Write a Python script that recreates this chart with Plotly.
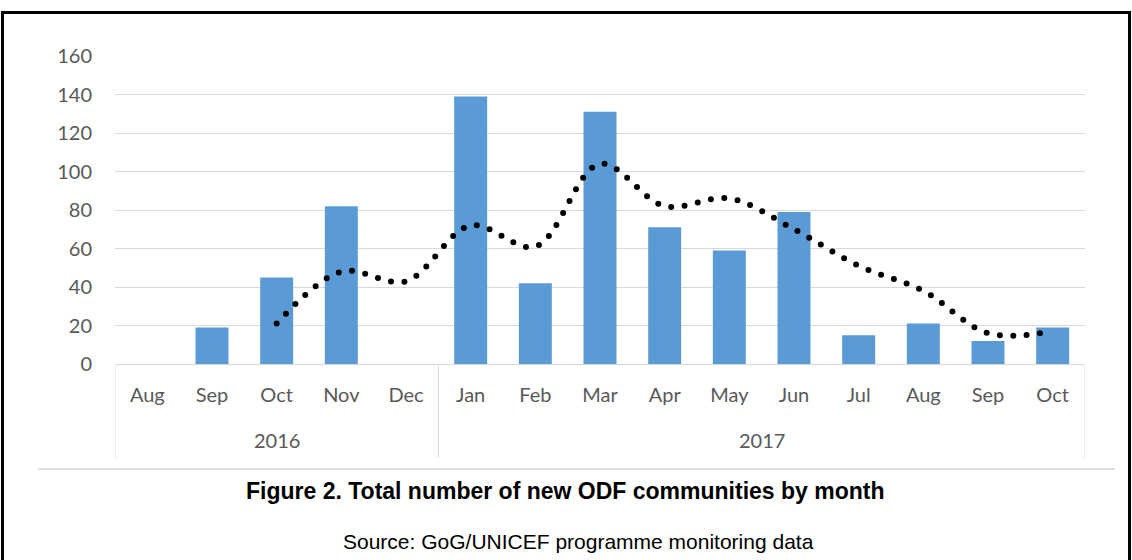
import plotly.graph_objects as go

months = ["Aug", "Sep", "Oct", "Nov", "Dec", "Jan", "Feb", "Mar", "Apr", "May", "Jun", "Jul", "Aug", "Sep", "Oct"]
years = ["2016"] * 5 + ["2017"] * 10
values = [0, 19, 45, 82, 0, 139, 42, 131, 71, 59, 79, 15, 21, 12, 19]
# 3-month moving-average trendline (starts at Oct 2016)
trend_start = 2
trend = [21, 48, 43, 72, 61, 104, 82, 86, 70, 51, 38, 16, 17]
y_ticks = [0, 20, 40, 60, 80, 100, 120, 140, 160]

W, H = 1132, 560
L, R, T, B = 115, 47, 56, 196
pw, ph = W - L - R, H - T - B

def px(X):
    return (X - L) / pw

def py(Y):
    return (H - B - Y) / ph

idx = list(range(len(months)))
FONT = "Lato, Carlito, Calibri, sans-serif"
ARIAL = "Liberation Sans, Arial, sans-serif"
GRAY = "#595959"

fig = go.Figure()
fig.add_trace(go.Bar(x=idx, y=values, marker=dict(color="#5B9BD5", line=dict(width=0)),
                     width=0.51, hoverinfo="y"))
fig.add_trace(go.Scatter(x=idx[trend_start:trend_start + len(trend)], y=trend, mode="lines",
                         line=dict(color="black", width=6, shape="spline", smoothing=1,
                                   dash="5px,9px"), hoverinfo="skip"))

shapes = []
annotations = []
bounds = [0]
for i in range(1, len(years)):
    if years[i] != years[i - 1]:
        bounds.append(i)
bounds.append(len(years))
for b in bounds:
    shapes.append(dict(type="line", xref="x", yref="paper", x0=b - 0.5, x1=b - 0.5,
                       y0=0, y1=py(458), line=dict(color="#D9D9D9", width=1)))
for a, b in zip(bounds[:-1], bounds[1:]):
    annotations.append(dict(x=(a + b - 1) / 2, y=py(440), xref="x", yref="paper",
                            xanchor="center", yanchor="middle",
                            text=years[a], showarrow=False,
                            font=dict(family=FONT, size=20, color=GRAY)))
shapes.append(dict(type="line", xref="paper", yref="paper", x0=px(38), x1=px(1115),
                   y0=py(469), y1=py(469), line=dict(color="#BFBFBF", width=1)))
shapes.append(dict(type="rect", xref="paper", yref="paper", x0=px(2.5), x1=px(1129.5),
                   y0=py(600), y1=py(12.5), line=dict(color="black", width=3)))
annotations.append(dict(x=px(565), y=py(491), xref="paper", yref="paper",
                        xanchor="center", yanchor="middle",
                        text="<b>Figure 2. Total number of new ODF communities by month</b>",
                        showarrow=False, font=dict(family=ARIAL, size=23, color="black")))
annotations.append(dict(x=px(578), y=py(541), xref="paper", yref="paper",
                        xanchor="center", yanchor="middle",
                        text="Source: GoG/UNICEF programme monitoring data", showarrow=False,
                        font=dict(family=ARIAL, size=21, color="black")))

fig.update_layout(
    width=W, height=H,
    margin=dict(l=L, r=R, t=T, b=B, pad=0),
    paper_bgcolor="white", plot_bgcolor="white",
    showlegend=False,
    bargap=0.49,
    shapes=shapes, annotations=annotations,
    xaxis=dict(tickmode="array", tickvals=idx, ticktext=months, range=[-0.5, len(months) - 0.5],
               showgrid=False, zeroline=False, showline=True, linecolor="#D9D9D9", linewidth=1,
               ticks="", ticklabelstandoff=13,
               tickfont=dict(family=FONT, size=20, color=GRAY)),
    yaxis=dict(tickmode="array", tickvals=y_ticks, range=[0, 160], showgrid=True,
               gridcolor="#D9D9D9", gridwidth=1, zeroline=False, showline=False,
               ticks="", ticklabelstandoff=22,
               tickfont=dict(family=FONT, size=20, color=GRAY)),
)

post = """
document.body.style.margin='0';
document.querySelectorAll('.scatterlayer .js-line').forEach(function(p){
  p.style.strokeLinecap='round';
  p.style.strokeDasharray='0px,13.5px';
});
"""
fig.write_html("out.html", post_script=post, config={"displayModeBar": False})
